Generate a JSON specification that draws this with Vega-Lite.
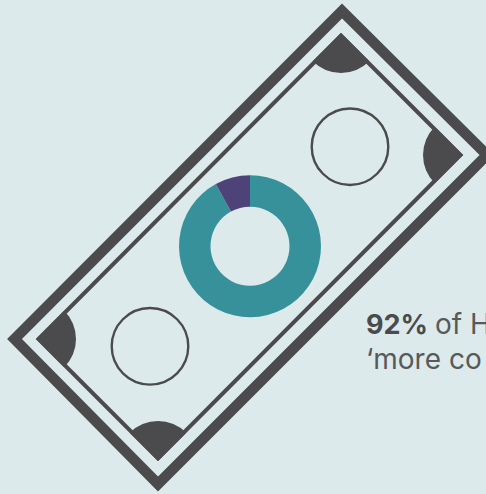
{
  "$schema": "https://vega.github.io/schema/vega-lite/v6.json",
  "width": 486,
  "height": 494,
  "padding": 0,
  "autosize": {"type": "none"},
  "background": "#DCEAEB",
  "view": {"stroke": null},
  "datasets": {
    "note": [
      {"edge": "outer", "seq": 0, "x": 414.5, "y": 83},
      {"edge": "outer", "seq": 1, "x": 487, "y": 155},
      {"edge": "outer", "seq": 2, "x": 158, "y": 484},
      {"edge": "outer", "seq": 3, "x": 14.5, "y": 339},
      {"edge": "outer", "seq": 4, "x": 342, "y": 11},
      {"edge": "outer", "seq": 5, "x": 414.5, "y": 83},
      {"edge": "inner", "seq": 0, "x": 400.75, "y": 95.25},
      {"edge": "inner", "seq": 1, "x": 460.5, "y": 155},
      {"edge": "inner", "seq": 2, "x": 158, "y": 458.5},
      {"edge": "inner", "seq": 3, "x": 38.5, "y": 339},
      {"edge": "inner", "seq": 4, "x": 341, "y": 35.5},
      {"edge": "inner", "seq": 5, "x": 400.75, "y": 95.25}
    ],
    "corners": [
      {"x": 341, "y": 33, "from": 135, "to": 225},
      {"x": 463, "y": 155, "from": 225, "to": 315},
      {"x": 158, "y": 461, "from": -45, "to": 45},
      {"x": 36, "y": 339, "from": 45, "to": 135}
    ],
    "seals": [
      {"x": 350, "y": 146.7},
      {"x": 150, "y": 346.3}
    ],
    "donut": [
      {"x": 250, "y": 246.2, "group": "yes", "share": 92, "start": 0, "end": 92},
      {"x": 250, "y": 246.2, "group": "no", "share": 8, "start": 92, "end": 100}
    ],
    "lead": [
      {"x": 366, "y": 334, "text": "92%"}
    ],
    "caption": [
      {"x": 435, "y": 334, "text": "of H"},
      {"x": 366, "y": 369, "text": "‘more co"}
    ]
  },
  "encoding": {
    "x": {"field": "x", "type": "quantitative", "axis": null, "scale": {"domain": [0, 486], "nice": false, "zero": false}},
    "y": {"field": "y", "type": "quantitative", "axis": null, "scale": {"domain": [494, 0], "nice": false, "zero": false}}
  },
  "resolve": {"scale": {"theta": "independent", "color": "independent"}},
  "layer": [
    {
      "data": {"name": "note"},
      "transform": [{"filter": "datum.edge === 'outer'"}],
      "mark": {"type": "line", "stroke": "#4B4B4D", "strokeWidth": 10.5, "strokeJoin": "miter", "strokeMiterLimit": 10},
      "encoding": {"order": {"field": "seq", "type": "quantitative"}}
    },
    {
      "data": {"name": "note"},
      "transform": [{"filter": "datum.edge === 'inner'"}],
      "mark": {"type": "line", "stroke": "#4B4B4D", "strokeWidth": 4, "strokeJoin": "miter", "strokeMiterLimit": 10},
      "encoding": {"order": {"field": "seq", "type": "quantitative"}}
    },
    {
      "data": {"name": "corners"},
      "mark": {"type": "arc", "innerRadius": 0, "outerRadius": 40, "fill": "#4B4B4D"},
      "encoding": {
        "theta": {"field": "from", "type": "quantitative", "scale": {"domain": [0, 360], "range": [0, 6.283185]}},
        "theta2": {"field": "to"}
      }
    },
    {
      "data": {"name": "seals"},
      "mark": {"type": "point", "shape": "circle", "filled": false, "size": 5860, "stroke": "#4B4B4D", "strokeWidth": 2.4, "opacity": 1},
      "encoding": {}
    },
    {
      "data": {"name": "donut"},
      "mark": {"type": "arc", "innerRadius": 39.5, "outerRadius": 71},
      "encoding": {
        "theta": {"field": "start", "type": "quantitative", "scale": {"domain": [0, 100], "range": [0, 6.283185]}},
        "theta2": {"field": "end"},
        "color": {"field": "group", "type": "nominal", "legend": null, "scale": {"domain": ["yes", "no"], "range": ["#37919A", "#4E4379"]}}
      }
    },
    {
      "data": {"name": "lead"},
      "mark": {"type": "text", "align": "left", "baseline": "alphabetic", "font": "Inter", "fontSize": 27, "fontWeight": "bold", "fill": "#4B4B4D"},
      "encoding": {"text": {"field": "text"}}
    },
    {
      "data": {"name": "caption"},
      "mark": {"type": "text", "align": "left", "baseline": "alphabetic", "font": "Inter", "fontSize": 28, "fontWeight": 400, "fill": "#58595B"},
      "encoding": {"text": {"field": "text"}}
    }
  ]
}
